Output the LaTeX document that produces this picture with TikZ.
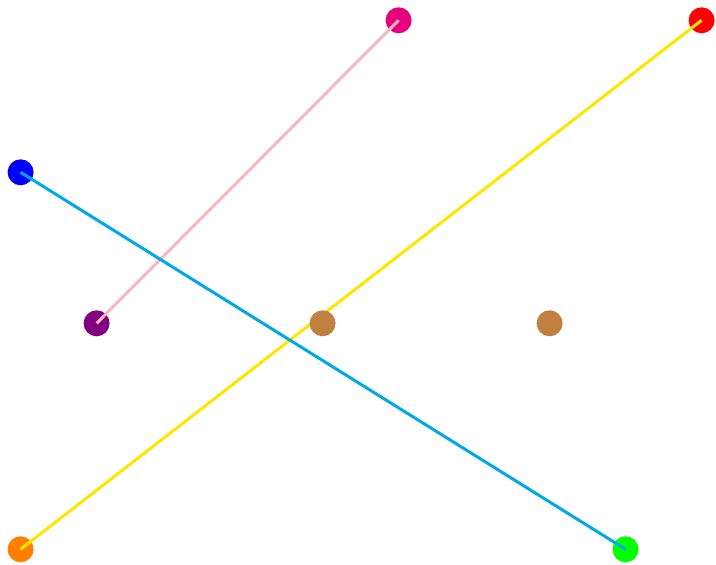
\documentclass[tikz,border=0pt]{standalone}
\definecolor{dotmagenta}{RGB}{230, 0, 126}
\definecolor{dotbrown}{RGB}{192, 128, 64}
\definecolor{dotorange}{RGB}{255, 128, 0}
\definecolor{dotpurple}{RGB}{128, 0, 128}
\definecolor{linecyan}{RGB}{0, 168, 232}
\definecolor{linepink}{RGB}{246, 184, 192}
\definecolor{lineyellow}{RGB}{255, 230, 0}

\begin{document}
\begin{tikzpicture}[x=1pt, y=-1pt,
        dot/.style={circle, inner sep=0pt, minimum size=26pt},
        link/.style={line width=3pt}
      ]
        \useasboundingbox (0,0) rectangle (716,565);
        \node[dot, fill=dotmagenta] (magenta) at (398.6,20.3) {};
        \node[dot, fill=red] (red) at (701.6,20.3) {};
        \node[dot, fill=blue] (blue) at (20.6,172.3) {};
        \node[dot, fill=dotpurple] (purple) at (96.6,323.3) {};
        \node[dot, fill=dotorange] (orange) at (20.6,549.3) {};
        \node[dot, fill=green] (green) at (625.6,549.3) {};
        \draw[link, linepink] (purple.center) -- (magenta.center);
        \draw[link, lineyellow] (orange.center) -- (red.center);
        \draw[link, linecyan] (blue.center) -- (green.center);
        \node[dot, fill=dotbrown] (brownleft) at (322.6,323.3) {};
        \node[dot, fill=dotbrown] (brownright) at (549.6,323.3) {};
      \end{tikzpicture}
\end{document}
